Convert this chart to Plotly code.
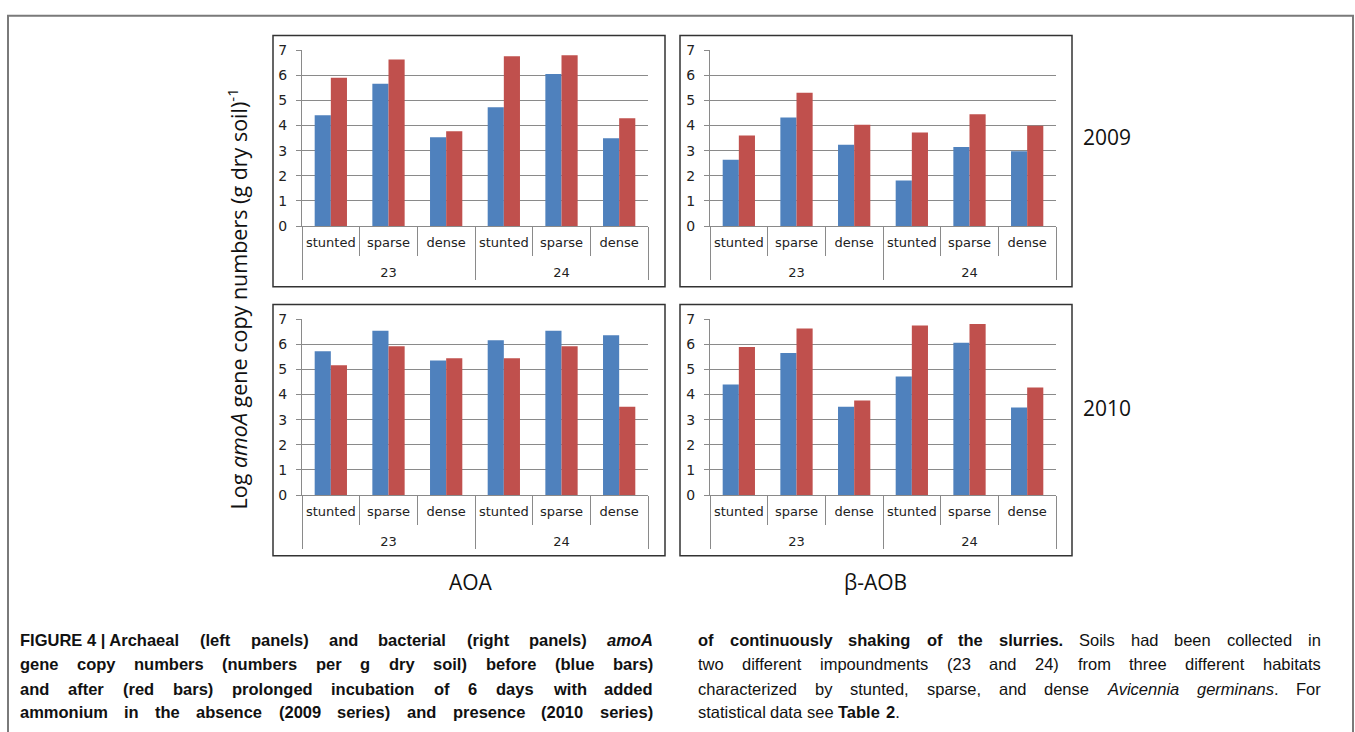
import plotly.graph_objects as go

# ---------------- data ----------------
impoundments = ["23", "23", "23", "24", "24", "24"]
habitats = ["stunted", "sparse", "dense", "stunted", "sparse", "dense"]

aoa_2009_before = [4.41, 5.66, 3.53, 4.73, 6.05, 3.49]
aoa_2009_after = [5.90, 6.62, 3.77, 6.75, 6.79, 4.29]
aob_2009_before = [2.64, 4.32, 3.24, 1.81, 3.15, 2.98]
aob_2009_after = [3.60, 5.30, 4.03, 3.72, 4.45, 3.99]
aoa_2010_before = [5.72, 6.53, 5.35, 6.16, 6.53, 6.36]
aoa_2010_after = [5.16, 5.92, 5.44, 5.44, 5.92, 3.51]
aob_2010_before = [4.40, 5.65, 3.51, 4.72, 6.06, 3.48]
aob_2010_after = [5.89, 6.62, 3.76, 6.74, 6.80, 4.28]

y_ticks = [0, 1, 2, 3, 4, 5, 6, 7]
row_labels = ["2009", "2010"]
col_labels = ["AOA", "β-AOB"]

BLUE = "#4F81BD"
RED = "#C0504D"
GRAY = "#8a8a8a"

W, H = 1355, 732


def px(x):
    return x / W


def py(y):
    return 1 - y / H


panels = [
    ("x", "y", (302, 648, 43, 223), aoa_2009_before, aoa_2009_after),
    ("x2", "y2", (710, 1056, 43, 223), aob_2009_before, aob_2009_after),
    ("x3", "y3", (302, 648, 318, 498), aoa_2010_before, aoa_2010_after),
    ("x4", "y4", (710, 1056, 318, 498), aob_2010_before, aob_2010_after),
]
frames = [(273, 28, 665, 285), (680, 28, 1072, 285),
          (273, 303, 665, 560), (680, 303, 1072, 560)]

# outer (impoundment) labels get an empty first line so they sit lower
outer_labels = [" <br>" + v for v in impoundments]

fig = go.Figure()
layout = {}
for xa, ya, (x0, x1, yt, yb), before, after in panels:
    for vals, col, name in ((before, BLUE, "before"), (after, RED, "after")):
        fig.add_trace(go.Bar(
            x=[outer_labels, habitats], y=vals, name=name,
            marker=dict(color=col, line=dict(width=0)),
            xaxis=xa, yaxis=ya, showlegend=False,
        ))
    xkey = "xaxis" + xa[1:]
    ykey = "yaxis" + ya[1:]
    layout[xkey] = dict(
        type="multicategory", domain=[px(x0), px(x1)], anchor=ya,
        showgrid=False, showline=True, linecolor=GRAY, linewidth=1,
        ticks="outside", tickson="boundaries", ticklen=29, tickcolor=GRAY,
        showdividers=True, dividercolor=GRAY, dividerwidth=1, tickangle=0,
        ticklabelstandoff=4,
        tickfont=dict(family="DejaVu Sans", size=13, color="#222"),
        fixedrange=True,
    )
    layout[ykey] = dict(
        domain=[py(yb), py(yt)], anchor=xa, range=[0, 7],
        tickvals=y_ticks, showgrid=True, gridcolor=GRAY, gridwidth=1,
        showline=True, linecolor=GRAY, ticks="outside", ticklen=5,
        tickcolor=GRAY, zeroline=False, ticklabelstandoff=6,
        tickfont=dict(family="DejaVu Sans", size=14, color="#222"),
        fixedrange=True,
    )

shapes = []
shapes.append(dict(type="rect", xref="paper", yref="paper",
                   x0=px(8), x1=px(1353), y0=py(745), y1=py(8),
                   line=dict(color="#7a7a7a", width=2)))
for (fx0, fy0, fx1, fy1) in frames:
    shapes.append(dict(type="rect", xref="paper", yref="paper",
                       x0=px(fx0), x1=px(fx1), y0=py(fy1), y1=py(fy0),
                       line=dict(color="#333333", width=1.5)))

annotations = []
annotations.append(dict(
    text="Log <i>amoA</i> gene copy numbers (g dry soil)<sup>-1</sup>",
    x=px(237), y=py(298), xref="paper", yref="paper", textangle=-90,
    showarrow=False, font=dict(family="Open Sans", size=21.5, color="#111"),
    xanchor="center", yanchor="middle"))
for lab, yy in zip(row_labels, (132, 409)):
    annotations.append(dict(text=lab, x=px(1107), y=py(yy), xref="paper", yref="paper",
                            xanchor="center", yanchor="middle",
                            showarrow=False, font=dict(family="Open Sans", size=21, color="#111")))
for lab, xx in zip(col_labels, (471, 875)):
    annotations.append(dict(text=lab, x=px(xx), y=py(587), xref="paper", yref="paper",
                            xanchor="center", yanchor="middle",
                            showarrow=False, font=dict(family="Open Sans", size=21, color="#111")))

# ---------------- caption (justified, word by word) ----------------
REG = {' ': 278, '(': 333, ')': 333, ',': 278, '-': 333, '.': 278, '|': 260, ':': 278}
BOLD = {' ': 278, '(': 333, ')': 333, ',': 278, '-': 333, '.': 278, '|': 280, ':': 333}
for d in "0123456789":
    REG[d] = 556
    BOLD[d] = 556
REG.update(dict(zip("ABCDEFGHIJKLMNOPQRSTUVWXYZ",
                    [667, 667, 722, 722, 667, 611, 778, 722, 278, 500, 667, 556, 833, 722, 778, 667, 778, 722, 667, 611, 722, 667, 944, 667, 667, 611])))
REG.update(dict(zip("abcdefghijklmnopqrstuvwxyz",
                    [556, 556, 500, 556, 556, 278, 556, 556, 222, 222, 500, 222, 833, 556, 556, 556, 556, 333, 500, 278, 556, 500, 722, 500, 500, 500])))
BOLD.update(dict(zip("ABCDEFGHIJKLMNOPQRSTUVWXYZ",
                     [722, 722, 722, 722, 667, 611, 778, 722, 278, 556, 722, 611, 833, 722, 778, 667, 778, 722, 667, 611, 722, 667, 944, 667, 667, 611])))
BOLD.update(dict(zip("abcdefghijklmnopqrstuvwxyz",
                     [556, 611, 556, 611, 556, 333, 611, 611, 278, 278, 556, 278, 889, 611, 611, 611, 611, 389, 556, 333, 611, 556, 778, 556, 556, 500])))

CAP_FONT, CAP_SIZE = "Liberation Sans", 16.5


def seg_width(text, style):
    table = BOLD if "b" in style else REG
    return sum(table.get(c, 556) for c in text) * CAP_SIZE / 1000.0


def seg_html(text, style):
    h = text
    if "i" in style:
        h = "<i>" + h + "</i>"
    if "b" in style:
        h = "<b>" + h + "</b>"
    return h


def tokenize(segments):
    words = []
    cur = []
    for text, style in segments:
        parts = text.split(" ")
        for k, p in enumerate(parts):
            if k > 0:
                if cur:
                    words.append(cur)
                cur = []
            if p:
                cur.append((p, style))
    if cur:
        words.append(cur)
    return words


def place_line(segments, x0, x1, y, justify=True, keep=None):
    words = tokenize(segments)
    if keep:
        merged = []
        for k, w in enumerate(words[:keep]):
            if k:
                merged.append((" ", w[0][1]))
            merged.extend(w)
        words = [merged] + words[keep:]
    widths = [sum(seg_width(t, s) for t, s in w) for w in words]
    n = len(words)
    space = seg_width(" ", "")
    if justify and n > 1:
        gap = (x1 - x0 - sum(widths)) / (n - 1)
    else:
        gap = space
    x = x0
    for w, wd in zip(words, widths):
        annotations.append(dict(
            text="".join(seg_html(t, s) for t, s in w),
            x=px(x), y=py(y), xref="paper", yref="paper", xanchor="left",
            yanchor="middle", showarrow=False, borderpad=0,
            font=dict(family=CAP_FONT, size=CAP_SIZE, color="#111")))
        x += wd + gap


LX0, LX1 = 19, 652
RX0, RX1 = 697, 1320
LINES_Y = [646, 671, 696, 720]

left_lines = [
    [("FIGURE 4 | Archaeal (left panels) and bacterial (right panels) ", "b"), ("amoA", "bi")],
    [("gene copy numbers (numbers per g dry soil) before (blue bars)", "b")],
    [("and after (red bars) prolonged incubation of 6 days with added", "b")],
    [("ammonium in the absence (2009 series) and presence (2010 series)", "b")],
]
right_lines = [
    [("of continuously shaking of the slurries.", "b"), (" Soils had been collected in", "")],
    [("two different impoundments (23 and 24) from three different habitats", "")],
    [("characterized by stunted, sparse, and dense ", ""), ("Avicennia germinans", "i"), (". For", "")],
    [("statistical data see ", ""), ("Table 2", "b"), (".", "")],
]
for k, (seg, yy) in enumerate(zip(left_lines, LINES_Y)):
    place_line(seg, LX0, LX1, yy, justify=True, keep=4 if k == 0 else None)
for k, (seg, yy) in enumerate(zip(right_lines, LINES_Y)):
    place_line(seg, RX0, RX1, yy, justify=(k < 3))

fig.update_layout(
    width=W, height=H, margin=dict(l=0, r=0, t=0, b=0),
    paper_bgcolor="white", plot_bgcolor="white",
    barmode="group", bargap=0.44, bargroupgap=0,
    shapes=shapes, annotations=annotations, showlegend=False,
    **layout,
)
fig.write_html(
    "out.html",
    config={"displayModeBar": False},
    post_script=("document.body.style.margin='0';"
                 "document.body.style.overflow='hidden';"
                 "document.documentElement.style.overflow='hidden';"),
)
